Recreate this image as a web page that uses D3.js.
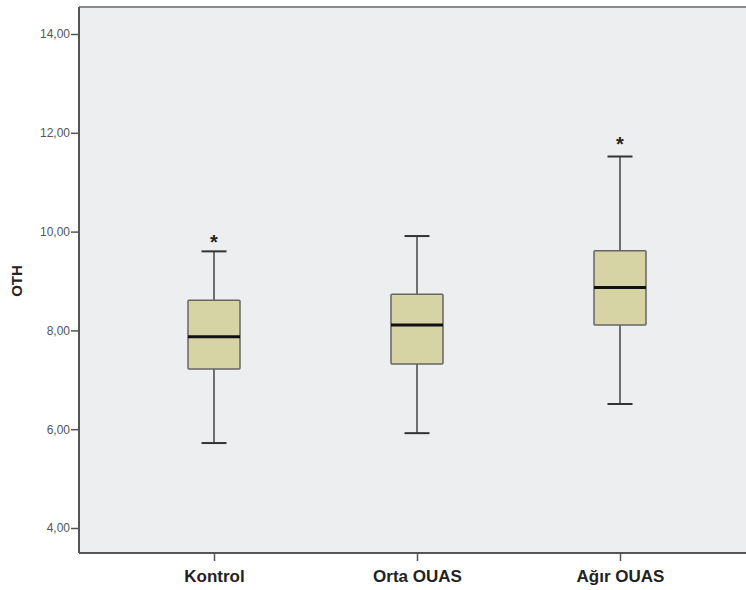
<!DOCTYPE html>
<html>
<head>
<meta charset="utf-8">
<script src="https://cdn.jsdelivr.net/npm/d3@7"></script>
<style>
  body { margin: 0; background: #fff; }
  svg { display: block; }
  .tick text { font-family: Arial, "Liberation Sans", sans-serif; }
</style>
</head>
<body>
<svg id="chart" width="746" height="590"></svg>
<script>
var groups = ["Kontrol", "Orta OUAS", "Ağır OUAS"];
var whiskerLow = [5.72, 5.92, 6.51];
var q1 = [7.22, 7.32, 8.11];
var median = [7.87, 8.11, 8.87];
var q3 = [8.61, 8.73, 9.61];
var whiskerHigh = [9.60, 9.91, 11.52];
var outliers = [[9.83], [], [11.81]];
var yTicks = [4, 6, 8, 10, 12, 14];

var data = groups.map(function(g, i) {
  return { name: g, lo: whiskerLow[i], q1: q1[i], med: median[i], q3: q3[i], hi: whiskerHigh[i], out: outliers[i] };
});

// plot frame (note: "top" is reserved on window, so use other names)
var plotL = 79, plotR = 755, plotT = 7, plotB = 553;

var svg = d3.select("#chart");

var x = d3.scalePoint().domain(groups).range([plotL, plotR]).padding(0.665);
var y = d3.scaleLinear().domain([4, 14]).range([528, 34]);

// plot background
svg.append("rect")
  .attr("x", plotL).attr("y", plotT)
  .attr("width", plotR - plotL).attr("height", plotB - plotT)
  .attr("fill", "#edeeef");

svg.append("line")
  .attr("x1", plotL).attr("x2", plotR).attr("y1", plotT).attr("y2", plotT)
  .attr("stroke", "#8a8a8a").attr("stroke-width", 2);

var yAxis = d3.axisLeft(y).tickValues(yTicks).tickSize(8).tickSizeOuter(0)
  .tickFormat(function(d) { return d3.format(".2f")(d).replace(".", ","); });

var gy = svg.append("g")
  .attr("transform", "translate(" + plotL + ",0)")
  .call(yAxis);
gy.select(".domain").attr("d", "M0," + plotT + "V" + plotB).attr("stroke", "#555").attr("stroke-width", 2);
gy.selectAll(".tick line").attr("stroke", "#555").attr("stroke-width", 1.5);
gy.selectAll(".tick text").attr("font-size", 12).attr("fill", "#555").attr("x", -9);

var xAxis = d3.axisBottom(x).tickSize(8).tickSizeOuter(0);
var gx = svg.append("g")
  .attr("transform", "translate(0," + plotB + ")")
  .call(xAxis);
gx.select(".domain").attr("d", "M" + plotL + ",0H" + plotR).attr("stroke", "#555").attr("stroke-width", 2);
gx.selectAll(".tick line").attr("stroke", "#555").attr("stroke-width", 1.5);
gx.selectAll(".tick text").attr("font-size", 17).attr("font-weight", "bold").attr("fill", "#222").attr("dy", "1.05em");

svg.append("text")
  .attr("transform", "translate(22,281) rotate(-90)")
  .attr("text-anchor", "middle")
  .attr("font-family", "Arial, 'Liberation Sans', sans-serif")
  .attr("font-size", 15).attr("font-weight", "bold").attr("fill", "#222")
  .text("OTH");

var boxW = 52, capW = 25;
var box = svg.selectAll(".box").data(data).enter().append("g").attr("class", "box");

box.append("line")
  .attr("x1", function(d) { return x(d.name); }).attr("x2", function(d) { return x(d.name); })
  .attr("y1", function(d) { return y(d.lo); }).attr("y2", function(d) { return y(d.hi); })
  .attr("stroke", "#444").attr("stroke-width", 1.5);

box.selectAll(".cap").data(function(d) { return [{ n: d.name, v: d.lo }, { n: d.name, v: d.hi }]; })
  .enter().append("line")
  .attr("x1", function(d) { return x(d.n) - capW / 2; }).attr("x2", function(d) { return x(d.n) + capW / 2; })
  .attr("y1", function(d) { return y(d.v); }).attr("y2", function(d) { return y(d.v); })
  .attr("stroke", "#333").attr("stroke-width", 2);

box.append("rect")
  .attr("x", function(d) { return x(d.name) - boxW / 2; })
  .attr("y", function(d) { return y(d.q3); })
  .attr("width", boxW)
  .attr("height", function(d) { return y(d.q1) - y(d.q3); })
  .attr("fill", "#d6d3a4").attr("stroke", "#666").attr("stroke-width", 1.5).attr("rx", 1);

box.append("line")
  .attr("x1", function(d) { return x(d.name) - boxW / 2; }).attr("x2", function(d) { return x(d.name) + boxW / 2; })
  .attr("y1", function(d) { return y(d.med); }).attr("y2", function(d) { return y(d.med); })
  .attr("stroke", "#111").attr("stroke-width", 3);

box.selectAll(".out").data(function(d) { return d.out.map(function(v) { return { n: d.name, v: v }; }); })
  .enter().append("text")
  .attr("x", function(d) { return x(d.n); })
  .attr("y", function(d) { return y(d.v) + 9; })
  .attr("text-anchor", "middle")
  .attr("font-family", "Arial, 'Liberation Sans', sans-serif")
  .attr("font-size", 20).attr("font-weight", "bold").attr("fill", "#222")
  .text("*");
</script>
</body>
</html>
